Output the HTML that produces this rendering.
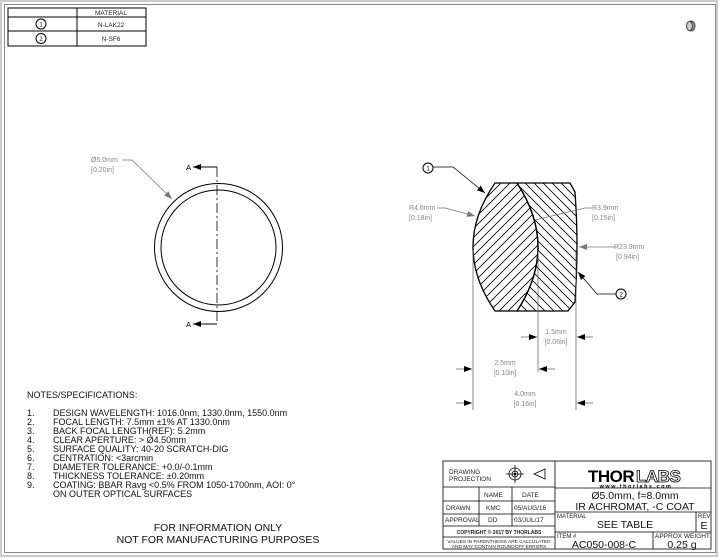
<!DOCTYPE html>
<html><head><meta charset="utf-8"><style>
html,body{margin:0;padding:0;background:#fff;}
svg{display:block;font-family:"Liberation Sans",sans-serif;}
</style></head><body>
<svg width="719" height="558" viewBox="0 0 719 558" xmlns="http://www.w3.org/2000/svg">
<defs>
<pattern id="h1" x="0" y="0" width="9" height="9" patternUnits="userSpaceOnUse"><path d="M-1,10 L10,-1 M-1,1 L1,-1 M8,10 L10,8" stroke="#000" stroke-width="0.8" fill="none"/></pattern>
<pattern id="h2" x="0" y="0" width="9" height="9" patternUnits="userSpaceOnUse"><path d="M-1,-1 L10,10 M8,-1 L10,1 M-1,8 L1,10" stroke="#000" stroke-width="0.8" fill="none"/></pattern>
<marker id="ar" markerWidth="8" markerHeight="6" refX="8" refY="3" orient="auto" markerUnits="userSpaceOnUse"><path d="M0,0 L8,3 L0,6 Z" fill="#000"/></marker>
<marker id="ag" markerWidth="8" markerHeight="6" refX="8" refY="3" orient="auto" markerUnits="userSpaceOnUse"><path d="M0,0 L8,3 L0,6 Z" fill="#777"/></marker>
</defs>
<rect x="0" y="0" width="719" height="558" fill="#fff"/>
<rect x="1" y="1" width="716" height="555" fill="none" stroke="#ccc" stroke-width="2"/>
<rect x="4.5" y="4.5" width="711" height="548" fill="none" stroke="#888" stroke-width="1"/>

<g stroke="#000" stroke-width="1" fill="none">
<rect x="8" y="8" width="138" height="38"/>
<line x1="8" y1="17" x2="146" y2="17"/>
<line x1="8" y1="31" x2="146" y2="31"/>
<line x1="77" y1="8" x2="77" y2="46"/>
<circle cx="41" cy="24" r="5"/><circle cx="41" cy="38.5" r="5"/>
</g>
<g font-size="6.5" text-anchor="middle" fill="#222">
<text x="111" y="15">MATERIAL</text>
<text x="111" y="27">N-LAK22</text>
<text x="111" y="41">N-SF6</text>
<text x="41" y="26.5" font-size="6">1</text>
<text x="41" y="41" font-size="6">2</text>
</g>

<g transform="translate(691,26)"><ellipse cx="0" cy="0" rx="4" ry="5" fill="#999" stroke="#444"/><ellipse cx="-1.5" cy="0" rx="3" ry="4.5" fill="#ccc" stroke="#444"/></g>

<circle cx="218.5" cy="247.5" r="64" fill="none" stroke="#000" stroke-width="1"/>
<circle cx="218.5" cy="247.5" r="57.5" fill="none" stroke="#000" stroke-width="1"/>
<line x1="217" y1="167" x2="217" y2="324" stroke="#000" stroke-width="0.8" stroke-dasharray="10,3,2,3"/>
<line x1="217" y1="167" x2="193" y2="167" stroke="#000" marker-end="url(#ar)"/>
<line x1="217" y1="324" x2="193" y2="324" stroke="#000" marker-end="url(#ar)"/>
<text x="186" y="170" font-size="7.5">A</text>
<text x="186" y="327" font-size="7.5">A</text>
<polyline points="122,160 132,160 172,199" fill="none" stroke="#777" stroke-width="0.8" marker-end="url(#ag)"/>
<text x="91" y="162" font-size="7" fill="#888">Ø5.0mm</text>
<text x="91" y="172" font-size="7" fill="#888">[0.20in]</text>

<path d="M517,183 L570,183 L575,192 Q579,247 575,302 L568,311 L517,311 Q559,247 517,183 Z" fill="url(#h2)" stroke="#000" stroke-width="1.3"/>
<path d="M495,183 L517,183 Q559,247 517,311 L495,311 Q451,247 495,183 Z" fill="url(#h1)" stroke="#000" stroke-width="1.3"/>

<circle cx="428" cy="168" r="5" fill="none" stroke="#000"/><text x="428" y="170.5" font-size="6.5" text-anchor="middle">1</text>
<polyline points="433,167 453,167 485,193" fill="none" stroke="#000" stroke-width="0.8" marker-end="url(#ar)"/>
<circle cx="621" cy="294" r="5" fill="none" stroke="#000"/><text x="621" y="296.5" font-size="6.5" text-anchor="middle">2</text>
<polyline points="616,294 597,294 578,272" fill="none" stroke="#000" stroke-width="0.8" marker-end="url(#ar)"/>

<polyline points="437,208 445,208 475,216" fill="none" stroke="#777" stroke-width="0.8" marker-end="url(#ag)"/>
<text x="409" y="210" font-size="7" fill="#888">R4.6mm</text><text x="409" y="220" font-size="7" fill="#888">[0.18in]</text>
<polyline points="592,208 585,208 535,220" fill="none" stroke="#777" stroke-width="0.8"/>
<text x="592" y="210" font-size="7" fill="#888">R3.9mm</text><text x="592" y="220" font-size="7" fill="#888">[0.15in]</text>
<line x1="615" y1="247" x2="579" y2="247" stroke="#777" stroke-width="0.8" marker-end="url(#ag)"/>
<text x="614" y="249" font-size="7" fill="#888">R23.9mm</text><text x="616" y="259" font-size="7" fill="#888">[0.94in]</text>

<g stroke="#555" stroke-width="0.7">
<line x1="473" y1="250" x2="473" y2="410"/>
<line x1="538" y1="250" x2="538" y2="372"/>
<line x1="576" y1="250" x2="576" y2="410"/>
</g>
<g stroke="#555" stroke-width="0.7">
<line x1="521" y1="337" x2="537" y2="337" marker-end="url(#ar)"/>
<line x1="593" y1="337" x2="577" y2="337" marker-end="url(#ar)"/>
<line x1="456" y1="369" x2="472" y2="369" marker-end="url(#ar)"/>
<line x1="555" y1="369" x2="539" y2="369" marker-end="url(#ar)"/>
<line x1="456" y1="403" x2="472" y2="403" marker-end="url(#ar)"/>
<line x1="593" y1="403" x2="577" y2="403" marker-end="url(#ar)"/>
</g>
<g font-size="7" fill="#888" text-anchor="middle">
<text x="556" y="334">1.5mm</text><text x="556" y="344">[0.06in]</text>
<text x="505" y="365">2.5mm</text><text x="505" y="375">[0.10in]</text>
<text x="525" y="396">4.0mm</text><text x="525" y="406">[0.16in]</text>
</g>

<g font-size="9" fill="#111">
<text x="27" y="398">NOTES/SPECIFICATIONS:</text>
<text x="27" y="416">1.</text><text x="53" y="416">DESIGN WAVELENGTH: 1016.0nm, 1330.0nm, 1550.0nm</text>
<text x="27" y="425">2.</text><text x="53" y="425">FOCAL LENGTH: 7.5mm ±1% AT 1330.0nm</text>
<text x="27" y="434">3.</text><text x="53" y="434">BACK FOCAL LENGTH(REF): 5.2mm</text>
<text x="27" y="443">4.</text><text x="53" y="443">CLEAR APERTURE: &gt; Ø4.50mm</text>
<text x="27" y="452">5.</text><text x="53" y="452">SURFACE QUALITY: 40-20 SCRATCH-DIG</text>
<text x="27" y="461">6.</text><text x="53" y="461">CENTRATION: &lt;3arcmin</text>
<text x="27" y="470">7.</text><text x="53" y="470">DIAMETER TOLERANCE: +0.0/-0.1mm</text>
<text x="27" y="479">8.</text><text x="53" y="479">THICKNESS TOLERANCE: ±0.20mm</text>
<text x="27" y="488">9.</text><text x="53" y="488">COATING: BBAR Ravg &lt;0.5% FROM 1050-1700nm, AOI: 0°</text>
<text x="53" y="497">ON OUTER OPTICAL SURFACES</text>
</g>
<g font-size="10.5" fill="#111" text-anchor="middle">
<text x="218" y="531">FOR INFORMATION ONLY</text>
<text x="218" y="543">NOT FOR MANUFACTURING PURPOSES</text>
</g>

<g stroke="#000" stroke-width="0.8" fill="none">
<rect x="443" y="461" width="268" height="88"/>
<line x1="555" y1="461" x2="555" y2="549"/>
<line x1="443" y1="487" x2="555" y2="487"/>
<line x1="443" y1="501" x2="555" y2="501"/>
<line x1="443" y1="514" x2="555" y2="514"/>
<line x1="443" y1="526" x2="555" y2="526"/>
<line x1="443" y1="537" x2="555" y2="537"/>
<line x1="479" y1="487" x2="479" y2="526"/>
<line x1="512" y1="487" x2="512" y2="526"/>
<line x1="555" y1="488" x2="711" y2="488"/>
<line x1="555" y1="512" x2="711" y2="512"/>
<line x1="555" y1="532" x2="711" y2="532"/>
<line x1="696" y1="512" x2="696" y2="532"/>
<line x1="653" y1="532" x2="653" y2="549"/>
<circle cx="515" cy="474" r="6"/><circle cx="515" cy="474" r="3"/>
<line x1="506" y1="474" x2="524" y2="474"/><line x1="515" y1="465" x2="515" y2="483"/>
<path d="M534,474 L545,469 L545,479 Z"/>
</g>
<circle cx="515" cy="474" r="1.3" fill="#000"/>
<g font-size="6.5" fill="#222">
<text x="449" y="474">DRAWING</text><text x="449" y="481">PROJECTION</text>
<text x="484" y="497">NAME</text><text x="522" y="497">DATE</text>
<text x="446" y="510">DRAWN</text><text x="486" y="510">KMC</text><text x="514" y="510">05/AUG/16</text>
<text x="445" y="522">APPROVAL</text><text x="488" y="522">DD</text><text x="514" y="522">03/JUL/17</text>
<text x="499" y="534" font-size="5" font-weight="bold" text-anchor="middle">COPYRIGHT © 2017 BY THORLABS</text>
<text x="499" y="543" font-size="4.8" text-anchor="middle">VALUES IN PARENTHESIS ARE CALCULATED</text>
<text x="499" y="548" font-size="4.8" text-anchor="middle">AND MAY CONTAIN ROUNDOFF ERRORS</text>
<text x="557" y="518" font-size="6">MATERIAL</text>
<text x="698" y="518" font-size="6">REV</text>
<text x="557" y="538" font-size="6">ITEM #</text>
<text x="655" y="538" font-size="6.5">APPROX WEIGHT</text>
</g>
<text x="588" y="482" font-size="17" font-weight="bold" fill="#000" letter-spacing="-0.5">THOR</text>
<text x="636" y="482" font-size="17" font-weight="bold" fill="#fff" stroke="#000" stroke-width="0.8" letter-spacing="-0.5">LABS</text>
<text x="636" y="488" font-size="5.5" font-weight="bold" text-anchor="middle" letter-spacing="1.5">www.thorlabs.com</text>
<g font-size="10.5" fill="#111" text-anchor="middle">
<text x="635" y="499">Ø5.0mm, f=8.0mm</text>
<text x="635" y="510">IR ACHROMAT, -C COAT</text>
<text x="625" y="528">SEE TABLE</text>
<text x="704" y="529">E</text>
<text x="604" y="548">AC050-008-C</text>
<text x="682" y="548">0.25 g</text>
</g>
</svg>
</body></html>
